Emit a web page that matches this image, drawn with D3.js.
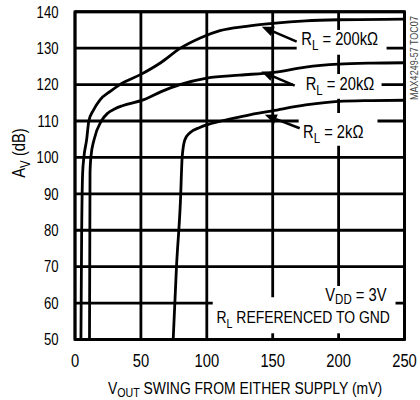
<!DOCTYPE html>
<html>
<head>
<meta charset="utf-8">
<script src="https://cdn.jsdelivr.net/npm/d3@7"></script>
<style>
  html, body { margin: 0; padding: 0; background: #fff; }
  svg { display: block; }
  text { font-family: "Liberation Sans", Arial, sans-serif; fill: #000; }
</style>
</head>
<body>
<svg id="chart" width="420" height="400"></svg>
<script>
// ---- data ----
const xTicks = [0, 50, 100, 150, 200, 250];
const yTicks = [50, 60, 70, 80, 90, 100, 110, 120, 130, 140];

// Gain (dB) vs output swing (mV) for each load
const rl200k = [[4.5,50],[5,77],[5.8,95.7],[6.8,100.2],[8.8,104.8],[10.5,110],[14,113],[19,115.8],[27,118.2],[34,120],[50,122.8],[65,126],[80,130],[95,132.8],[110,134.8],[130,136],[150,136.8],[175,137.5],[200,137.8],[250,138]];
const rl20k  = [[11,50],[11.4,95.7],[12.1,100.2],[14.4,104.8],[20,110],[25,112.2],[30,113.3],[36,114.2],[51.7,115.8],[65,118],[79.5,120],[100,121.8],[125,122.6],[150,123.3],[175,124.8],[200,125.6],[225,125.9],[250,126]];
const rl2k   = [[74.5,50],[77,70],[80,88],[81.3,100],[83.3,104.8],[87,106.7],[94.7,108.2],[111,110],[130,111.5],[150,112.8],[175,114.4],[200,115.4],[225,115.6],[250,115.7]];

// label annotations (data units): text parts, label anchor, arrow tail, arrow tip, white box
const curveLabels = [
  { parts: [["R",0],["L",1],[" = 200kΩ",0]], at: [171.7,130.9], tail: [168.2,131.8], tip: [141.7,135.9], box: [168.2,135.0,236.4,128.2] },
  { parts: [["R",0],["L",1],[" = 20kΩ",0]],  at: [175,118.4],   tail: [166.7,119.7], tip: [141.4,123.6], box: [165.2,122.9,232.6,116.1] },
  { parts: [["R",0],["L",1],[" = 2kΩ",0]],   at: [173,105.3],   tail: [170.5,108.0], tip: [144,111.7],   box: [169.7,112.2,229.5,103.2] }
];

// ---- layout ----
const svg = d3.select("#chart");
const x = d3.scaleLinear().domain([0, 250]).range([75, 404.5]);
const y = d3.scaleLinear().domain([50, 140]).range([339.5, 11.75]);
const SW = 2.8;
const SX = 0.82; // horizontal condensing to mimic a narrow face

function label(px, py, parts, size, opts = {}) {
  const rot = opts.rotate || 0;
  const t = svg.append("text")
    .attr("transform", `translate(${px},${py}) rotate(${rot}) scale(${SX},1)`)
    .attr("font-size", size)
    .attr("text-anchor", opts.anchor || "start");
  if (opts.dy) t.attr("dy", opts.dy);
  if (opts.fill) t.style("fill", opts.fill);
  const sub = Math.round(size * 0.75);
  const shift = size * (opts.subShift || 0.28);
  if (typeof parts === "string" || typeof parts === "number") { t.text(parts); return t; }
  parts.forEach((p, i) => {
    const s = t.append("tspan").text(p[0]);
    if (p[1]) { s.attr("font-size", sub).attr("dy", shift); }
    else if (i > 0 && parts[i-1][1]) { s.attr("dy", -shift); }
  });
  return t;
}

// gridlines
const grid = svg.append("g");
grid.selectAll("line.v").data(xTicks).join("line")
  .attr("x1", d => x(d)).attr("x2", d => x(d))
  .attr("y1", y(50)).attr("y2", y(140))
  .attr("stroke", "#000").attr("stroke-width", SW);
grid.selectAll("line.h").data(yTicks).join("line")
  .attr("y1", d => y(d)).attr("y2", d => y(d))
  .attr("x1", x(0)).attr("x2", x(250))
  .attr("stroke", "#000").attr("stroke-width", SW);
svg.append("rect")
  .attr("x", x(0)).attr("y", y(140))
  .attr("width", x(250) - x(0)).attr("height", y(50) - y(140))
  .attr("fill", "none").attr("stroke", "#000").attr("stroke-width", SW);

// white label boxes
const boxes = curveLabels.map(d => d.box).concat([[104.5,61.6,243.2,51.7],[187,64.7,240,59.4]]);
svg.append("g").selectAll("rect").data(boxes).join("rect")
  .attr("x", d => x(d[0])).attr("y", d => y(d[1]))
  .attr("width", d => x(d[2]) - x(d[0])).attr("height", d => y(d[3]) - y(d[1]))
  .attr("fill", "#fff");

// curves
svg.append("clipPath").attr("id", "plot").append("rect")
  .attr("x", x(0)).attr("y", y(140)).attr("width", x(250) - x(0)).attr("height", y(50) - y(140));
const line = d3.line().x(d => x(d[0])).y(d => y(d[1])).curve(d3.curveMonotoneX);
svg.append("g").attr("clip-path", "url(#plot)")
  .selectAll("path").data([rl200k, rl20k, rl2k]).join("path")
  .attr("d", line).attr("fill", "none").attr("stroke", "#000")
  .attr("stroke-width", 2.8).attr("stroke-linejoin", "round");

// arrows + labels
curveLabels.forEach(d => {
  const x0 = x(d.tail[0]), y0 = y(d.tail[1]), x1 = x(d.tip[0]), y1 = y(d.tip[1]);
  const ang = Math.atan2(y1 - y0, x1 - x0);
  const L = 12, W = 5;
  const bx = x1 - L * Math.cos(ang), by = y1 - L * Math.sin(ang);
  svg.append("line").attr("x1", x0).attr("y1", y0).attr("x2", bx).attr("y2", by)
    .attr("stroke", "#000").attr("stroke-width", 2.6);
  const px = -Math.sin(ang) * W, py = Math.cos(ang) * W;
  svg.append("path")
    .attr("d", `M${x1},${y1}L${bx + px},${by + py}L${bx - px},${by - py}Z`)
    .attr("fill", "#000");
  label(x(d.at[0]), y(d.at[1]), d.parts, 18);
});

// bottom note
label(386.5, 300.5, [["V",0],["DD",1],[" = 3V",0]], 18, { anchor: "end", subShift: 0.18 });
label(216.5, 323, [["R",0],["L",1],[" REFERENCED TO GND",0]], 17);

// tick labels
yTicks.forEach(d => label(58.5, y(d), String(d), 16, { anchor: "end", dy: "0.36em" }));
xTicks.forEach(d => label(x(d), 366.5, String(d), 18, { anchor: "middle" }));

// axis titles
label(245, 393.5, [["V",0],["OUT",1],[" SWING FROM EITHER SUPPLY (mV)",0]], 17, { anchor: "middle", subShift: 0.2 });
label(25, 153, [["A",0],["V",1],[" (dB)",0]], 18, { anchor: "middle", rotate: -90 });

// side code
label(418, 58, "MAX4249-57 TOC07", 11, { anchor: "middle", rotate: -90, fill: "#444" });
</script>
</body>
</html>
